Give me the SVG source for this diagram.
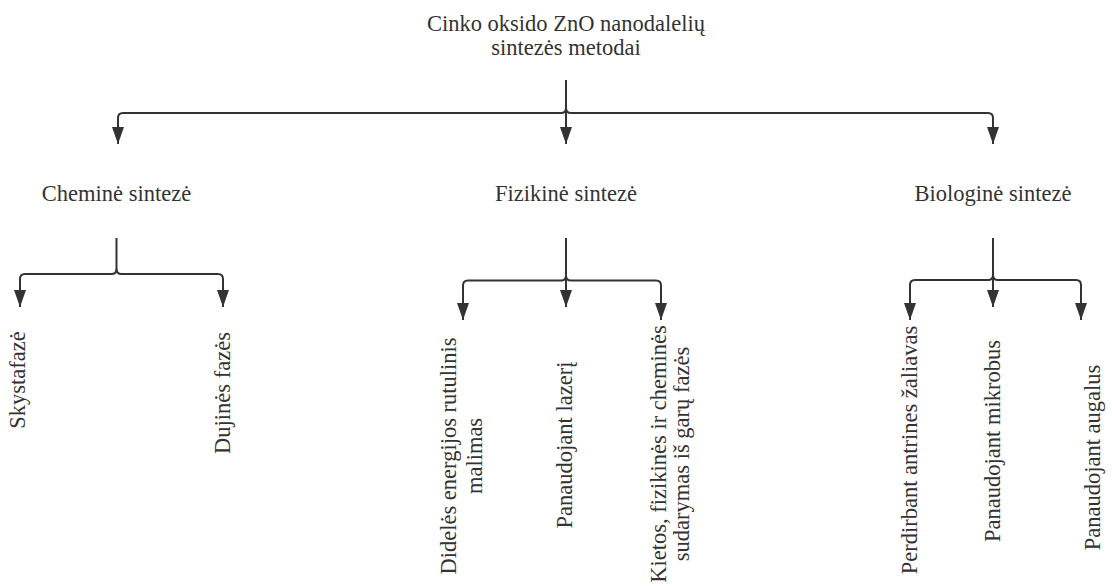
<svg xmlns="http://www.w3.org/2000/svg" width="1112" height="588" viewBox="0 0 1112 588">
<style>
text{font-family:"Liberation Serif","Times New Roman",serif;font-size:22.5px;fill:#333;}
.c{text-anchor:middle;}
.e{fill:none;stroke:#333;stroke-width:2;}
</style>
<defs>
<marker id="ah" markerUnits="userSpaceOnUse" markerWidth="18" markerHeight="12" refX="17" refY="6" orient="auto" viewBox="0 0 18 12">
<path d="M0,0 L17,6 L0,12 z" fill="#333"/>
</marker>
</defs>
<rect width="1112" height="588" fill="#fff"/>
<g id="connectors">
<path class="e" d="M566,80 L566,108"/>
<path class="e" d="M566,108 Q566,113 561,113 L123,113 Q118,113 118,118 L118,144" marker-end="url(#ah)"/>
<path class="e" d="M566,108 Q566,113 571,113 L988,113 Q993,113 993,118 L993,144" marker-end="url(#ah)"/>
<path class="e" d="M566,108 L566,144" marker-end="url(#ah)"/>
<path class="e" d="M116.5,238 L116.5,269"/>
<path class="e" d="M116.5,269 Q116.5,274 111.5,274 L25,274 Q20,274 20,279 L20,307" marker-end="url(#ah)"/>
<path class="e" d="M116.5,269 Q116.5,274 121.5,274 L218,274 Q223,274 223,279 L223,307" marker-end="url(#ah)"/>
<path class="e" d="M566,238 L566,275.5"/>
<path class="e" d="M566,275.5 Q566,280.5 561,280.5 L468,280.5 Q463,280.5 463,285.5 L463,320" marker-end="url(#ah)"/>
<path class="e" d="M566,275.5 Q566,280.5 571,280.5 L656,280.5 Q661,280.5 661,285.5 L661,320" marker-end="url(#ah)"/>
<path class="e" d="M566,275.5 L566,307" marker-end="url(#ah)"/>
<path class="e" d="M993,238 L993,275"/>
<path class="e" d="M993,275 Q993,280 988,280 L915,280 Q910,280 910,285 L910,320" marker-end="url(#ah)"/>
<path class="e" d="M993,275 Q993,280 998,280 L1076,280 Q1081,280 1081,285 L1081,320" marker-end="url(#ah)"/>
<path class="e" d="M993,275 L993,307" marker-end="url(#ah)"/>
</g>
<g id="root"><text class="c" x="566" y="30.5">Cinko oksido ZnO nanodalelių</text><text class="c" x="566" y="55">sintezės metodai</text></g>
<g id="chem"><text class="c" x="116.5" y="200.5">Cheminė sintezė</text></g>
<g id="fiz"><text class="c" x="566" y="200.5">Fizikinė sintezė</text></g>
<g id="bio"><text class="c" x="993" y="200.5">Biologinė sintezė</text></g>
<g id="skysta"><text class="c" transform="translate(25,380) rotate(-90)">Skystafazė</text></g>
<g id="dujines"><text class="c" transform="translate(230,393) rotate(-90)">Dujinės fazės</text></g>
<g id="dideles"><text class="c" transform="translate(456,456) rotate(-90)">Didelės energijos rutulinis</text><text class="c" transform="translate(482,456) rotate(-90)">malimas</text></g>
<g id="lazeri"><text class="c" transform="translate(571.5,445) rotate(-90)">Panaudojant lazerį</text></g>
<g id="kietos"><text class="c" transform="translate(666,454) rotate(-90)">Kietos, fizikinės ir cheminės</text><text class="c" transform="translate(689,454) rotate(-90)">sudarymas iš garų fazės</text></g>
<g id="perdirbant"><text class="c" transform="translate(916.5,450) rotate(-90)">Perdirbant antrines žaliavas</text></g>
<g id="mikrobus"><text class="c" transform="translate(1000,441) rotate(-90)">Panaudojant mikrobus</text></g>
<g id="augalus"><text class="c" transform="translate(1100,457.5) rotate(-90)">Panaudojant augalus</text></g>
</svg>
